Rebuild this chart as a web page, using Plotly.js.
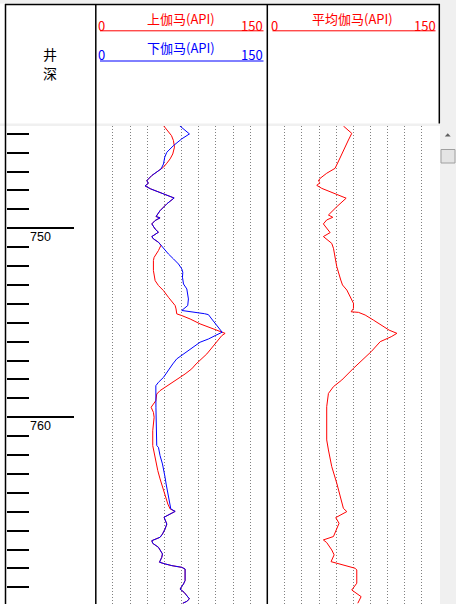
<!DOCTYPE html>
<html>
<head>
<meta charset="utf-8">
<script src="https://cdn.plot.ly/plotly-3.0.1.min.js"></script>
<style>html,body{margin:0;padding:0;background:#fff;}#chart{width:456px;height:604px;}</style>
</head>
<body>
<div id="chart"></div>
<script>
// ---------- data ----------
const curveNames = ['上伽马(API)', '下伽马(API)', '平均伽马(API)'];
const scaleMin = 0, scaleMax = 150;
const depthTitle = ['井', '深'];
const depthLabels = [750, 760];

const depthUp = [744.57,744.83,745.10,745.36,745.71,746.07,746.33,746.56,746.77,746.86,747.21,747.48,747.62,747.76,747.92,748.18,748.40,748.71,749.07,749.38,749.45,749.59,749.77,750.04,750.21,750.44,750.56,750.74,750.90,751.05,751.18,751.54,751.71,752.24,752.77,753.03,753.30,753.65,753.92,754.09,754.27,754.53,754.62,754.80,755.06,755.33,755.45,755.56,755.68,756.12,756.65,757.18,757.44,757.71,757.89,758.15,758.41,758.59,758.77,759.12,759.47,759.74,760.00,760.71,761.50,761.85,762.29,762.82,763.26,763.62,764.06,764.59,764.85,764.98,765.12,765.29,765.65,765.91,766.18,766.35,766.53,766.67,766.88,767.23,767.41,767.67,767.76,767.85,767.94,768.03,768.64,768.82,769.09,769.26,769.61,769.74,769.84];
const gammaUp = [59.2,62.7,66.2,67.9,68.8,67.3,65.0,62.1,59.2,57.1,49.0,44.6,46.0,43.1,48.1,59.2,68.5,62.1,56.2,52.7,56.2,51.9,49.0,51.9,54.8,49.0,50.4,54.8,57.0,55.8,54.8,51.0,50.4,50.4,51.9,54.8,59.2,63.5,67.3,69.4,70.2,70.8,75.2,82.5,91.2,102.9,108.1,113.1,110.2,104.4,97.1,87.7,83.9,78.1,73.7,66.5,60.6,56.2,53.3,52.5,48.4,50.4,51.0,49.8,49.8,51.0,52.2,54.2,56.2,58.3,60.3,63.0,65.0,69.4,65.0,59.7,62.1,60.6,58.3,56.2,49.0,49.8,54.8,58.3,57.7,55.7,60.6,66.5,75.2,78.1,78.1,76.7,73.7,77.2,81.9,79.6,76.1];

const depthDown = [744.57,745.01,745.27,745.63,745.98,746.24,746.60,746.86,747.21,747.48,747.62,747.76,747.92,748.18,748.40,748.71,749.07,749.38,749.45,749.59,749.77,750.04,750.21,750.44,750.56,750.74,750.90,751.09,751.36,751.62,751.89,752.15,752.33,752.59,752.95,753.21,753.48,753.74,754.09,754.35,754.52,754.57,754.80,755.15,755.50,755.68,755.86,756.03,756.21,756.47,756.74,756.91,757.18,757.53,757.89,758.15,758.33,759.50,760.35,761.50,761.59,762.03,762.47,762.82,763.18,763.53,764.06,764.59,764.85,764.98,765.12,765.29,765.65,765.91,766.18,766.35,766.53,766.67,766.88,767.23,767.41,767.67,767.76,767.85,767.94,768.03,768.64,768.82,769.09,769.26,769.61,769.74,769.84];
const gammaDown = [73.2,81.9,75.2,67.9,62.1,60.3,59.2,57.1,49.0,44.6,46.0,43.1,48.1,59.2,68.5,62.1,56.2,52.7,56.2,51.9,49.0,51.9,54.8,49.0,50.4,54.8,57.0,59.2,63.5,67.9,72.3,75.2,76.1,75.8,76.7,79.6,80.4,81.0,80.4,75.2,95.0,98.5,101.4,105.8,110.5,104.4,98.5,91.2,86.9,81.0,75.2,70.8,67.3,63.5,59.2,54.8,52.5,52.6,52.7,53.3,54.8,56.2,58.3,59.7,60.6,61.5,63.0,64.4,65.6,69.4,65.0,59.7,62.1,60.6,58.3,56.2,49.0,49.8,54.8,58.3,57.7,55.7,60.6,66.5,75.2,78.1,78.1,76.7,73.7,77.2,81.9,79.6,76.1];

const depthAvg = [744.59,744.98,745.33,745.86,746.39,746.83,747.09,747.36,747.50,747.59,747.73,747.89,748.15,748.41,748.86,749.30,749.42,749.56,749.77,750.00,750.23,750.44,750.53,750.80,751.06,751.50,752.03,752.74,753.00,753.27,753.62,753.97,754.24,754.42,754.45,754.59,754.86,755.12,755.39,755.56,755.74,756.00,756.53,757.41,758.03,758.38,758.74,759.44,760.32,761.20,761.73,762.61,763.49,764.37,764.82,764.99,765.17,765.31,765.61,766.31,766.49,766.63,767.02,767.28,767.64,767.73,767.87,767.99,768.08,768.78,769.14,769.49,769.84];
const gammaAvg = [66.3,73.6,70.7,66.3,62.5,59.0,51.7,45.9,44.4,45.9,43.0,47.4,59.0,68.7,60.5,53.2,57.0,51.7,48.8,51.7,54.7,48.8,50.9,56.1,57.6,59.0,60.5,64.0,65.5,69.3,72.2,75.1,75.1,73.1,79.5,85.3,92.6,99.9,106.3,113.1,108.1,98.5,90.6,75.1,64.9,57.6,53.2,51.7,51.7,51.7,53.2,56.1,60.5,64.3,66.3,69.3,63.4,59.6,62.5,57.6,48.8,51.7,56.1,58.2,55.5,60.5,67.8,76.6,78.0,78.0,73.6,81.8,78.9];

// ---------- layout helpers ----------
const W = 456, H = 604;
const px = x => x / W;
const py = y => 1 - y / H;
const CJK = '"Noto Sans CJK SC", "Noto Sans", sans-serif';
const RED = '#ff0000', BLUE = '#0000ff';

const traces = [
  {x: gammaUp, y: depthUp, xaxis: 'x', yaxis: 'y', mode: 'lines', line: {color: RED, width: 1}, name: curveNames[0], hoverinfo: 'skip'},
  {x: gammaDown, y: depthDown, xaxis: 'x', yaxis: 'y', mode: 'lines', line: {color: BLUE, width: 1}, name: curveNames[1], hoverinfo: 'skip'},
  {x: gammaAvg, y: depthAvg, xaxis: 'x2', yaxis: 'y', mode: 'lines', line: {color: RED, width: 1}, name: curveNames[2], hoverinfo: 'skip'}
];

const trackX = {
  range: [scaleMin, scaleMax], anchor: 'y', showgrid: true, dtick: 15, tick0: 0,
  gridcolor: '#808080', griddash: '1px,2px', gridwidth: 1, zeroline: false,
  showticklabels: false, ticks: '', showline: false, fixedrange: true
};

function hline(x0, x1, y, color, w) {
  return {type: 'line', xref: 'paper', yref: 'paper', x0: px(x0), x1: px(x1), y0: py(y), y1: py(y), line: {color: color, width: w}, layer: 'above'};
}
function vline(x, y0, y1, color, w) {
  return {type: 'line', xref: 'paper', yref: 'paper', x0: px(x), x1: px(x), y0: py(y0), y1: py(y1), line: {color: color, width: w}, layer: 'above'};
}
function rect(x0, y0, x1, y1, fill, lineColor) {
  return {type: 'rect', xref: 'paper', yref: 'paper', x0: px(x0), x1: px(x1), y0: py(y1), y1: py(y0), fillcolor: fill, line: {color: lineColor || fill, width: lineColor ? 1 : 0}, layer: 'above'};
}

const shapes = [
  rect(0, 0, 456, 3.6, '#f0f0f0'),
  rect(440, 0, 456, 604, '#f0f0f0'),
  rect(0, 123.5, 440, 126, '#f0f0f0'),
  hline(5, 440, 4.5, '#000', 1.5),
  vline(5.5, 4, 604, '#000', 1.5),
  vline(95.8, 4, 604, '#000', 1.5),
  vline(267.3, 4, 604, '#000', 1.5),
  vline(439.3, 4, 123.5, '#000', 1.5),
  hline(100, 263.5, 30.8, RED, 1),
  hline(100, 263.5, 61, BLUE, 1),
  hline(272.5, 435.5, 30.8, RED, 1),
  rect(441, 149.5, 455, 163, '#e4e4e4', '#a0a0a0'),
  {type: 'path', xref: 'paper', yref: 'paper',
   path: `M ${px(444.8)} ${py(136.6)} L ${px(450.7)} ${py(136.6)} L ${px(447.75)} ${py(133.2)} Z`,
   fillcolor: '#606060', line: {color: '#606060', width: 0}, layer: 'above'}
];

function note(text, x, y, color, anchor, size) {
  return {xref: 'paper', yref: 'paper', x: px(x), y: py(y), text: text, showarrow: false,
    xanchor: anchor || 'center', yanchor: 'middle', font: {family: CJK, size: size || 13, color: color}};
}

const annotations = [
  note(depthTitle[0], 50, 54, '#000', 'center', 14),
  note(depthTitle[1], 50, 73, '#000', 'center', 14),
  note(String(scaleMin), 96, 25, RED, 'left'),
  note(curveNames[0], 180.8, 19, RED),
  note(String(scaleMax), 265, 25, RED, 'right'),
  note(String(scaleMin), 96, 54, BLUE, 'left'),
  note(curveNames[1], 180.8, 47.5, BLUE),
  note(String(scaleMax), 265, 54, BLUE, 'right'),
  note(String(scaleMin), 268.5, 25, RED, 'left'),
  note(curveNames[2], 352, 19, RED),
  note(String(scaleMax), 437.8, 25, RED, 'right')
];
depthLabels.forEach(d => {
  annotations.push({xref: 'paper', yref: 'y', x: px(27.5), y: d, yshift: -8.4, text: String(d),
    showarrow: false, xanchor: 'left', yanchor: 'middle',
    font: {family: '"Liberation Sans", Arial, sans-serif', size: 12.5, color: '#000'}});
});

const layout = {
  width: W, height: H,
  margin: {l: 0, r: 0, t: 0, b: 0, pad: 0},
  paper_bgcolor: '#ffffff', plot_bgcolor: 'rgba(0,0,0,0)',
  showlegend: false,
  xaxis: Object.assign({}, trackX, {domain: [px(95.8), px(267.3)]}),
  xaxis2: Object.assign({}, trackX, {domain: [px(267.6), px(439.1)]}),
  yaxis: {
    domain: [0, py(126)], range: [769.88, 744.59], autorange: false,
    anchor: 'free', position: px(5.5), side: 'left',
    ticks: 'inside', ticklen: 67, tickwidth: 2, tickcolor: '#000', dtick: 10, tick0: 0,
    minor: {ticks: 'inside', dtick: 1, ticklen: 22, tickwidth: 2, tickcolor: '#000', showgrid: false},
    showticklabels: false, showgrid: false, zeroline: false, showline: false, fixedrange: true
  },
  shapes: shapes,
  annotations: annotations
};

Plotly.newPlot('chart', traces, layout, {staticPlot: true, displayModeBar: false});
</script>
</body>
</html>
